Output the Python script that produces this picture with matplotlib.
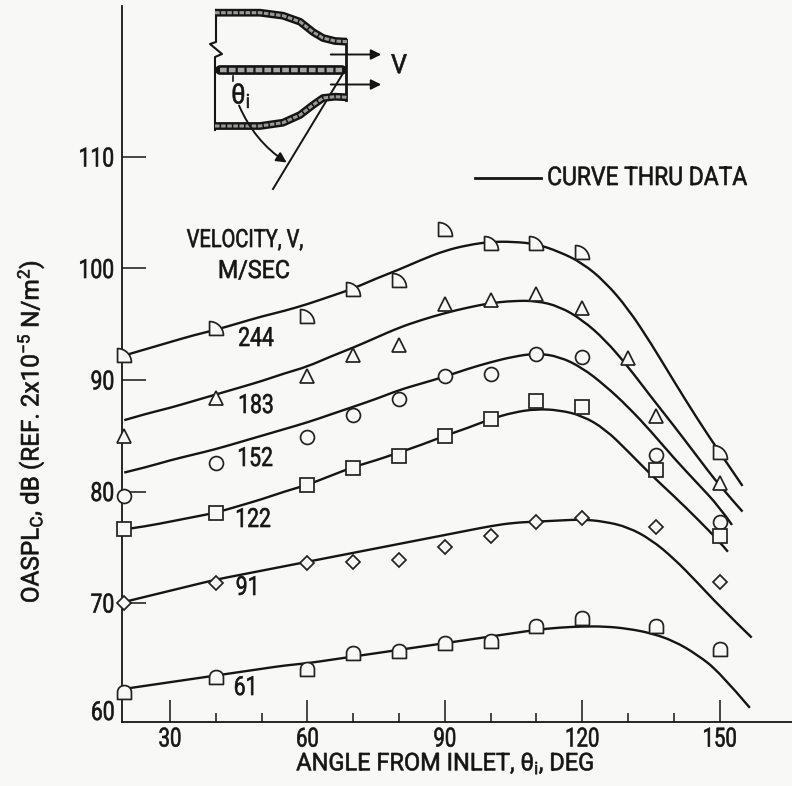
import matplotlib
matplotlib.use('Agg')
import matplotlib.pyplot as plt
from matplotlib.path import Path
from matplotlib.patches import PathPatch
from matplotlib.patheffects import AbstractPathEffect
from matplotlib.transforms import Affine2D

# === Data ===
curve_angles = [20, 25, 30, 35, 40, 45, 50, 55, 60, 65, 70, 75, 80, 85, 90, 95, 100, 105,
                110, 115, 120, 125, 130, 135, 140, 145, 150]
curve_244 = [92.2, 92.8, 93.4, 94.0, 94.5, 95.1, 95.7, 96.2, 96.8, 97.5, 98.2, 99.1, 99.9, 100.8,
             101.6, 102.1, 102.4, 102.4, 102.2, 101.5, 100.5, 98.8, 96.4, 93.3, 89.9, 86.6, 83.5, 80.5]
curve_183 = [86.4, 87.0, 87.5, 88.1, 88.7, 89.3, 89.9, 90.6, 91.2, 92.1, 92.9, 93.8, 94.7, 95.4,
             96.0, 96.5, 96.9, 97.1, 97.1, 96.6, 95.4, 93.6, 91.2, 88.5, 85.9, 83.2, 80.5, 78.2]
curve_152 = [81.7, 82.2, 82.8, 83.3, 83.8, 84.4, 85.0, 85.6, 86.2, 86.9, 87.6, 88.3, 89.1, 89.7,
             90.3, 91.0, 91.6, 92.1, 92.4, 92.1, 91.1, 89.5, 87.6, 85.4, 83.0, 80.8, 78.6, 77.0]
curve_122 = [76.6, 76.9, 77.3, 77.7, 78.1, 78.7, 79.3, 80.0, 80.6, 81.4, 82.2, 82.8, 83.5, 84.2,
             85.0, 85.7, 86.5, 87.1, 87.4, 87.3, 86.8, 85.6, 83.6, 81.5, 79.6, 77.6, 75.5, 74.6]
curve_91 = [70.1, 70.6, 71.1, 71.6, 72.1, 72.5, 72.9, 73.3, 73.7, 74.1, 74.5, 74.9, 75.3, 75.7,
            76.1, 76.5, 76.9, 77.2, 77.3, 77.4, 77.5, 77.3, 76.8, 75.7, 74.0, 71.9, 69.7, 66.9]
curve_61 = [62.3, 62.6, 62.9, 63.2, 63.5, 63.8, 64.1, 64.4, 64.6, 64.9, 65.2, 65.5, 65.8, 66.1,
            66.4, 66.7, 67.0, 67.3, 67.6, 67.8, 67.9, 67.9, 67.7, 67.3, 66.6, 65.4, 63.8, 60.6]
# each curve stops at its own angle
curve_ends = [155, 155, 152.7, 151.8, 157, 156.6]

angles_main = [20, 40, 60, 70, 80, 90, 100, 110, 120]
pts_244_x = angles_main + [150]
pts_244_y = [92.2, 94.7, 95.7, 98.2, 99.0, 103.5, 102.3, 102.3, 101.5, 83.5]
pts_183_x = angles_main + [130, 136, 150]
pts_183_y = [85.0, 88.4, 90.4, 92.2, 93.1, 96.8, 97.2, 97.7, 96.5, 92.0, 86.8, 80.8]
pts_152_x = angles_main + [136, 150]
pts_152_y = [79.6, 82.6, 84.9, 86.9, 88.3, 90.4, 90.5, 92.3, 92.1, 83.3, 77.3]
pts_122_x = angles_main + [136, 150]
pts_122_y = [76.6, 78.1, 80.6, 82.1, 83.2, 85.0, 86.5, 88.1, 87.6, 81.9, 76.0]
pts_91_x = angles_main + [136, 150]
pts_91_y = [70.0, 71.8, 73.6, 73.7, 73.9, 75.0, 76.0, 77.3, 77.6, 76.8, 71.9]
pts_61_x = angles_main + [136, 150]
pts_61_y = [62.0, 63.4, 64.1, 65.5, 65.7, 66.4, 66.6, 67.9, 68.7, 67.9, 65.9]

velocity_labels = ['244', '183', '152', '122', '91', '61']
label_px = [(256, 339), (256, 406), (255, 459), (253, 520), (248, 588), (246, 688)]

# === Style ===
BG = '#f8f8f7'
INK = '#151515'
FONT = 'Roboto'
plt.rcParams['font.family'] = [FONT, 'DejaVu Sans']
plt.rcParams['mathtext.fontset'] = 'custom'
plt.rcParams['mathtext.rm'] = FONT
plt.rcParams['mathtext.it'] = FONT
plt.rcParams['mathtext.default'] = 'rm'


class Narrow(AbstractPathEffect):
    # squeezes text sideways and thickens it, no condensed font is installed
    def __init__(self, sx, anchor='center', stroke=0.45):
        super().__init__()
        self.sx = sx
        self.anchor = anchor
        self.stroke = stroke

    def draw_path(self, renderer, gc, tpath, affine, rgbFace=None):
        box = tpath.get_extents()
        x0 = {'left': box.x0, 'center': (box.x0 + box.x1) / 2, 'right': box.x1}[self.anchor]
        squeeze = Affine2D().translate(-x0, 0).scale(self.sx, 1).translate(x0, 0)
        gc0 = renderer.new_gc()
        gc0.copy_properties(gc)
        gc0.set_linewidth(self.stroke)
        gc0.set_foreground(INK)
        renderer.draw_path(gc0, tpath, squeeze + affine, rgbFace)
        gc0.restore()


K = 0.5523
# flat-sided marker, square with a rounded top right corner
flag = Path([(-.5, -.5), (.5, -.5), (.5, -.5 + K), (-.5 + K, .5), (-.5, .5), (-.5, -.5)],
            [Path.MOVETO, Path.LINETO, Path.CURVE4, Path.CURVE4, Path.CURVE4, Path.CLOSEPOLY])
# square bottom, round top
arch = Path([(-.5, -.5), (.5, -.5), (.5, 0), (.5, K / 2 + .05), (K / 2, .5), (0, .5),
             (-K / 2, .5), (-.5, K / 2 + .05), (-.5, 0), (-.5, -.5)],
            [Path.MOVETO, Path.LINETO, Path.LINETO, Path.CURVE4, Path.CURVE4, Path.CURVE4,
             Path.CURVE4, Path.CURVE4, Path.CURVE4, Path.CLOSEPOLY])


def smooth_curve(xs, ys):
    # quadratic pieces with the read values as control points
    verts = [(xs[0], ys[0])]
    codes = [Path.MOVETO]
    for i in range(1, len(xs) - 1):
        end = (xs[i + 1], ys[i + 1]) if i == len(xs) - 2 else ((xs[i] + xs[i + 1]) / 2, (ys[i] + ys[i + 1]) / 2)
        verts += [(xs[i], ys[i]), end]
        codes += [Path.CURVE3, Path.CURVE3]
    return Path(verts, codes)


# === Main axes ===
W, H = 792, 786
fig = plt.figure(figsize=(W / 100, H / 100), dpi=100, facecolor=BG)
ax = fig.add_axes([121.5 / W, 1 - 722 / H, (W - 121.5) / W, (722 - 6) / H], facecolor=BG)
ax.set_xlim(19.4, 165.8)
ax.set_ylim(59.33, 123.54)

for s in ['top', 'right']:
    ax.spines[s].set_visible(False)
for s in ['left', 'bottom']:
    ax.spines[s].set_linewidth(1.3)
    ax.spines[s].set_color(INK)

ax.set_xticks([30, 60, 90, 120, 150])
ax.set_xticks([40, 50, 70, 80, 100, 110, 130, 140], minor=True)
ax.set_yticks([70, 80, 90, 100, 110])
ax.tick_params(axis='x', which='major', direction='in', length=16, width=1.1, color=INK, pad=4,
               labelsize=19, labelcolor=INK)
ax.tick_params(axis='x', which='minor', direction='in', length=6.5, width=1.1, color=INK)
ax.tick_params(axis='y', direction='in', length=17, width=1.1, color=INK, pad=5,
               labelsize=19, labelcolor=INK)
for t in ax.get_xticklabels():
    t.set_path_effects([Narrow(0.77)])
for t in ax.get_yticklabels():
    t.set_path_effects([Narrow(0.8, 'right')])

series = [
    (curve_244, pts_244_x, pts_244_y, flag, 10),
    (curve_183, pts_183_x, pts_183_y, '^', 10),
    (curve_152, pts_152_x, pts_152_y, 'o', 10),
    (curve_122, pts_122_x, pts_122_y, 's', 9.6),
    (curve_91, pts_91_x, pts_91_y, 'D', 7.4),
    (curve_61, pts_61_x, pts_61_y, arch, 10),
]
for (curve, px, py, marker, ms), end in zip(series, curve_ends):
    ax.add_patch(PathPatch(smooth_curve(curve_angles + [end], curve), fc='none', ec=INK, lw=1.7, zorder=3))
    ax.plot(px, py, ls='none', marker=marker, ms=ms, mfc=BG, mec='#222222', mew=1.25,
            clip_on=False, zorder=4)

# === Overlay in pixel coordinates, for the sketch and the notes ===
ov = fig.add_axes([0, 0, 1, 1], facecolor='none')
ov.set_xlim(0, W)
ov.set_ylim(H, 0)
ov.axis('off')


def note(x, y, s, size=19, sx=0.8, ha='center', **kw):
    t = ov.text(x, y, s, ha=ha, va='center', fontsize=size, color=INK, **kw)
    t.set_path_effects([Narrow(sx, ha)])
    return t


note(115, 713, '60', ha='right')
ov.plot([475, 541], [178, 178], color=INK, lw=2)
note(547, 178, 'CURVE THRU DATA', size=18.5, sx=0.89, ha='left')
note(245, 240, 'VELOCITY, V,', size=18, sx=0.8)
note(254, 271, 'M/SEC', size=18, sx=0.93)
for txt, (x, y) in zip(velocity_labels, label_px):
    note(x, y, txt)

note(445, 764, r'ANGLE FROM INLET, $\theta_{i}$, DEG', size=17.5, sx=0.97)
note(31, 432, r'OASPL$_{C}$, dB (REF. 2x10$^{-5}$ N/m$^{2}$)', size=17.5, sx=1.0, rotation=90)

# sketch of the nozzle
top_wall_x = [215, 260, 283, 300, 313, 323, 335, 347]
top_wall_y = [12.7, 12.7, 15.7, 21.7, 32, 38, 41, 41.7]
bot_wall_x = [215, 260, 283, 300, 313, 323, 335, 347]
bot_wall_y = [126, 126, 122.7, 115, 105, 98, 96.7, 97.3]
for wx, wy in [(top_wall_x, top_wall_y), (bot_wall_x, bot_wall_y)]:
    ov.plot(wx, wy, color=INK, lw=5.6, solid_capstyle='butt', zorder=2)
    ov.plot(wx, wy, color='#9a9a9a', lw=2.2, ls=(0, (1.5, 0.5)), zorder=3)
ov.plot([220, 342], [70, 70], color=INK, lw=7, solid_capstyle='round', zorder=2)
ov.plot([220, 342], [70, 70], color='#a5a5a5', lw=3.2, ls=(0, (1.5, 0.5)), zorder=3)
ov.plot([216, 216, 210, 222, 215, 215], [10, 42, 44, 54, 57, 130], color=INK, lw=1.5)
ov.plot([346, 346], [40, 100], color=INK, lw=2)
ov.plot([233, 233], [76, 81], color=INK, lw=1.2)
ov.plot([273, 342], [189, 75], color=INK, lw=1.4)
for ay in [54.5, 84.5]:
    ov.annotate('', xy=(384, ay), xytext=(328, ay),
                arrowprops=dict(arrowstyle='-|>', color=INK, lw=1.4, mutation_scale=15))
ov.annotate('', xy=(289, 164), xytext=(238, 103),
            arrowprops=dict(arrowstyle='-|>', color=INK, lw=1.4, mutation_scale=15,
                            connectionstyle='arc3,rad=0.16'))
note(399, 66, 'V', sx=0.95)
note(241, 96, r'$\theta_{i}$', size=20, sx=0.9)

plt.savefig('out.png', dpi=100, facecolor=BG)
